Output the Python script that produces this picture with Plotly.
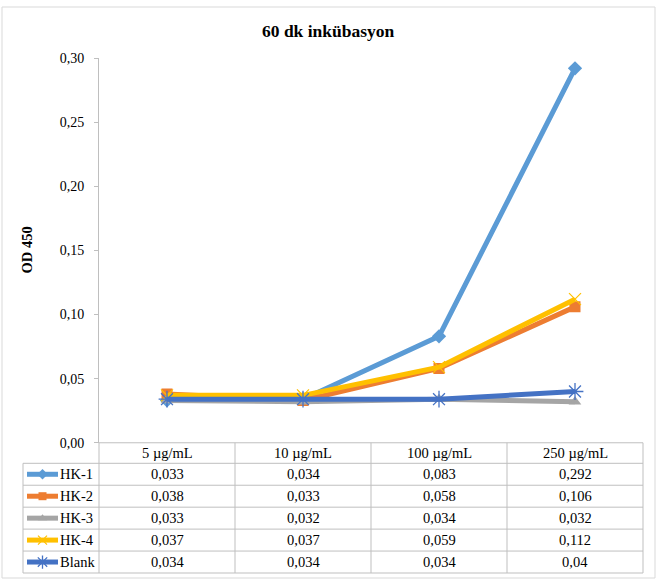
import plotly.graph_objects as go

categories = ["5 µg/mL", "10 µg/mL", "100 µg/mL", "250 µg/mL"]
series_names = ["HK-1", "HK-2", "HK-3", "HK-4", "Blank"]
hk1 = [0.033, 0.034, 0.083, 0.292]
hk2 = [0.038, 0.033, 0.058, 0.106]
hk3 = [0.033, 0.032, 0.034, 0.032]
hk4 = [0.037, 0.037, 0.059, 0.112]
blank = [0.034, 0.034, 0.034, 0.04]
series_values = [hk1, hk2, hk3, hk4, blank]
y_ticks = [0.0, 0.05, 0.10, 0.15, 0.20, 0.25, 0.30]

colors = ["#5B9BD5", "#ED7D31", "#A5A5A5", "#FFC000", "#4472C4"]
symbols = ["diamond", "square", "triangle-up", "x-thin", "asterisk"]
FONT = "Liberation Serif"

W, H = 665, 581
OFF, HE = 8, 565  # effective vertical drawing band observed in the viewer
def px(x): return x / W
def py(y): return 1 - (y - OFF) / HE

# layout geometry (pixels, as measured on the reference)
PL, PR, PT, PB = 99, 643, 59, 443
TL = 23
ROW_H = 21.9
HDR_B = 463.5
col_edges = [PL + (PR - PL) * k / len(categories) for k in range(len(categories) + 1)]

fig = go.Figure()

def mk(i, size=11):
    s = symbols[i]
    if s == "x-thin":
        return dict(symbol="x-thin-open", size=size + 1, color=colors[i],
                    line=dict(color=colors[i], width=1.2))
    if s == "asterisk":
        return dict(symbol="asterisk-open", size=size + 3, color=colors[i],
                    line=dict(color=colors[i], width=1.3))
    return dict(symbol=s, size=size, color=colors[i], line=dict(width=0))

for i, name in enumerate(series_names):
    fig.add_trace(go.Scatter(
        x=categories, y=series_values[i], name=name, mode="lines+markers",
        line=dict(color=colors[i], width=5), marker=mk(i),
        showlegend=False, xaxis="x", yaxis="y"))

# legend keys inside the data table (separate pixel-coordinate axes)
for i, name in enumerate(series_names):
    yc = HDR_B + ROW_H * i + ROW_H / 2
    fig.add_trace(go.Scatter(
        x=[27, 58], y=[yc, yc], mode="lines", line=dict(color=colors[i], width=5),
        showlegend=False, xaxis="x2", yaxis="y2", hoverinfo="skip"))
    fig.add_trace(go.Scatter(
        x=[42.5], y=[yc], mode="markers", marker=mk(i, 8),
        showlegend=False, xaxis="x2", yaxis="y2", hoverinfo="skip"))

shapes = []
annotations = []
gray = "#BFBFBF"
# outer border
shapes.append(dict(type="rect", xref="paper", yref="paper", x0=px(2), x1=px(655),
                   y0=py(578), y1=py(8), line=dict(color="#D9D9D9", width=1)))
# table lines
line = dict(color=gray, width=1)
bottom = HDR_B + ROW_H * len(series_names)
shapes.append(dict(type="line", xref="paper", yref="paper", x0=px(PL), x1=px(PR),
                   y0=py(PB), y1=py(PB), line=line))
for k in range(len(series_names) + 1):
    yy = HDR_B + ROW_H * k
    shapes.append(dict(type="line", xref="paper", yref="paper", x0=px(TL), x1=px(PR),
                       y0=py(yy), y1=py(yy), line=line))
shapes.append(dict(type="line", xref="paper", yref="paper", x0=px(TL), x1=px(TL),
                   y0=py(HDR_B), y1=py(bottom), line=line))
for k, xe in enumerate(col_edges):
    shapes.append(dict(type="line", xref="paper", yref="paper", x0=px(xe), x1=px(xe),
                       y0=py(PB), y1=py(bottom), line=line))

tf = dict(family=FONT, size=14.5, color="#000000")
for j, c in enumerate(categories):
    xc = (col_edges[j] + col_edges[j + 1]) / 2
    annotations.append(dict(xref="paper", yref="paper", x=px(xc), y=py((PB + HDR_B) / 2),
                            text=c, showarrow=False, font=tf, xanchor="center", yanchor="middle"))
    for i in range(len(series_names)):
        yc = HDR_B + ROW_H * i + ROW_H / 2
        annotations.append(dict(xref="paper", yref="paper", x=px(xc), y=py(yc),
                                text=str(series_values[i][j]).replace(".", ","),
                                showarrow=False, font=tf, xanchor="center", yanchor="middle"))
for i, name in enumerate(series_names):
    yc = HDR_B + ROW_H * i + ROW_H / 2
    annotations.append(dict(xref="paper", yref="paper", x=px(58), y=py(yc), text=name,
                            showarrow=False, font=tf, xanchor="left", yanchor="middle"))

annotations.append(dict(xref="paper", yref="paper", x=px(328), y=py(32), text="<b>60 dk inkübasyon</b>",
                        showarrow=False, font=dict(family=FONT, size=17.5, color="#000"),
                        xanchor="center", yanchor="middle"))
annotations.append(dict(xref="paper", yref="paper", x=px(27), y=py(251), text="<b>OD 450</b>",
                        showarrow=False, textangle=-90, font=dict(family=FONT, size=14.5, color="#000"),
                        xanchor="center", yanchor="middle"))

fig.update_layout(
    width=W, height=H, margin=dict(l=0, r=0, t=0, b=0), autosize=False,
    paper_bgcolor="white", plot_bgcolor="rgba(0,0,0,0)", separators=",.",
    xaxis=dict(domain=[px(PL), px(PR)], type="category", range=[-0.5, 3.5],
               showticklabels=False, showgrid=False, zeroline=False, showline=False, fixedrange=True),
    yaxis=dict(domain=[py(PB), py(PT)], range=[0, 0.30], tickvals=y_ticks, tickformat=".2f",
               showgrid=False, zeroline=False, showline=True, linecolor=gray, linewidth=1,
               ticks="outside", ticklen=4, tickcolor=gray, ticklabelstandoff=7,
               tickfont=dict(family=FONT, size=14, color="#000")),
    xaxis2=dict(domain=[0, 1], range=[0, W], visible=False, anchor="y2"),
    yaxis2=dict(domain=[0, 1], range=[OFF + HE, OFF], visible=False, anchor="x2"),
    shapes=shapes, annotations=annotations,
)

post = (
    "document.documentElement.style.margin='0';document.documentElement.style.padding='0';"
    "document.body.style.margin='0';document.body.style.padding='0';"
    "document.body.style.overflow='hidden';"
)

fig.write_html("out.html", config={"displayModeBar": False, "responsive": False},
               post_script=post)
